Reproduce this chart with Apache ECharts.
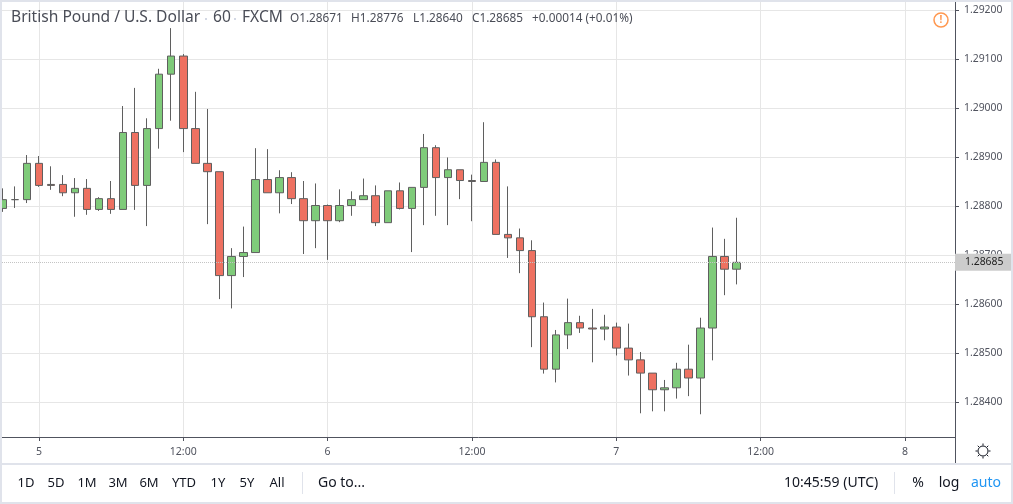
<!DOCTYPE html>
<html>
<head>
<meta charset="utf-8">
<style>html,body{margin:0;padding:0;background:#fff}#chart{width:1013px;height:504px}</style>
<script src="https://cdn.jsdelivr.net/npm/echarts@6/dist/echarts.min.js"></script>
</head>
<body>
<div id="chart"></div>
<script>
// GBP/USD hourly candles; hour 0 is midnight on the 5th.
const hours = [-3,-2,-1,0,1,2,3,4,5,6,7,8,9,10,11,12,13,14,15,16,17,18,19,20,21,22,23,24,25,26,27,28,29,30,31,32,33,34,35,36,37,38,39,40,41,42,43,44,45,46,47,48,49,50,51,52,53,54,55,56,57,58];
const opens = [1.28795,1.28813,1.28813,1.28887,1.28844,1.28844,1.28827,1.28836,1.28793,1.28815,1.28793,1.28950,1.28842,1.28958,1.29069,1.29106,1.28958,1.28887,1.28870,1.28658,1.28697,1.28705,1.28854,1.28827,1.28858,1.28815,1.28770,1.28801,1.28770,1.28801,1.28813,1.28821,1.28766,1.28831,1.28795,1.28838,1.28919,1.28858,1.28874,1.28852,1.28850,1.28889,1.28742,1.28735,1.28709,1.28574,1.28467,1.28537,1.28562,1.28551,1.28549,1.28553,1.28510,1.28486,1.28459,1.28425,1.28429,1.28467,1.28449,1.28551,1.28697,1.28671];
const closes = [1.28813,1.28813,1.28887,1.28842,1.28842,1.28827,1.28836,1.28793,1.28815,1.28793,1.28950,1.28842,1.28958,1.29069,1.29106,1.28958,1.28887,1.28870,1.28658,1.28697,1.28705,1.28854,1.28827,1.28858,1.28815,1.28770,1.28801,1.28770,1.28801,1.28813,1.28821,1.28766,1.28831,1.28795,1.28838,1.28919,1.28858,1.28874,1.28852,1.28850,1.28889,1.28742,1.28735,1.28709,1.28574,1.28467,1.28537,1.28562,1.28551,1.28549,1.28553,1.28510,1.28486,1.28459,1.28425,1.28429,1.28467,1.28449,1.28551,1.28697,1.28671,1.28685];
const lows = [1.28788,1.28796,1.28806,1.28839,1.28833,1.28820,1.28778,1.28782,1.28790,1.28784,1.28793,1.28792,1.28759,1.28917,1.28974,1.28910,1.28887,1.28763,1.28610,1.28591,1.28655,1.28705,1.28827,1.28785,1.28804,1.28702,1.28714,1.28690,1.28767,1.28780,1.28813,1.28759,1.28766,1.28793,1.28706,1.28761,1.28780,1.28761,1.28814,1.28769,1.28850,1.28742,1.28694,1.28663,1.28512,1.28458,1.28440,1.28508,1.28541,1.28481,1.28526,1.28495,1.28454,1.28377,1.28381,1.28381,1.28407,1.28412,1.28375,1.28485,1.28618,1.28640];
const highs = [1.28836,1.28840,1.28904,1.28902,1.28881,1.28863,1.28857,1.28855,1.28818,1.28851,1.29004,1.29041,1.28979,1.29080,1.29163,1.29110,1.29033,1.28998,1.28870,1.28714,1.28758,1.28918,1.28916,1.28873,1.28869,1.28851,1.28846,1.28803,1.28834,1.28830,1.28856,1.28842,1.28831,1.28848,1.28838,1.28947,1.28924,1.28899,1.28874,1.28864,1.28971,1.28895,1.28840,1.28754,1.28730,1.28603,1.28547,1.28611,1.28576,1.28590,1.28578,1.28562,1.28560,1.28502,1.28459,1.28445,1.28480,1.28517,1.28572,1.28756,1.28733,1.28776];
const priceTicks = [1.284,1.285,1.286,1.287,1.288,1.289,1.29,1.291,1.292];
const timeTicks = [0,12,24,36,48,60,72];
const timeLabels = ['5','12:00','6','12:00','7','12:00','8'];
const lastPrice = 1.28685;
const quoteParts = ['O1.28671','H1.28776','L1.28640','C1.28685','+0.00014 (+0.01%)'];
const quoteX = [290,351,413,472,532];
const rangeButtons = ['1D','5D','1M','3M','6M','YTD','1Y','5Y','All'];
const rangeButtonX = [26,56,87,118,149,184,218,247,277];

const FONT = '"Noto Sans", sans-serif';
const INK = '#131722', AXIS = '#50535e', GRID = '#e6e6e6', FRAME = '#e0e3eb';
const xMin = -3.067, xMax = 76.152;

const chart = echarts.init(document.getElementById('chart'), null, {renderer: 'canvas'});

const txt = (x, y, text, opt = {}) => ({
  type: 'text', x, y, z: 50,
  style: Object.assign({text, fill: INK, font: '14px ' + FONT, textAlign: 'left', textVerticalAlign: 'middle'}, opt)
});

const frame = [
  {type: 'rect', z: 40, shape: {x: 0, y: 0, width: 2, height: 504}, style: {fill: FRAME}},
  {type: 'rect', z: 40, shape: {x: 1011, y: 0, width: 2, height: 504}, style: {fill: FRAME}},
  {type: 'rect', z: 40, shape: {x: 0, y: 0, width: 1013, height: 2}, style: {fill: FRAME}},
  {type: 'rect', z: 40, shape: {x: 0, y: 502, width: 1013, height: 2}, style: {fill: FRAME}},
  {type: 'rect', z: 40, shape: {x: 0, y: 463, width: 1013, height: 2}, style: {fill: FRAME}},
  {type: 'rect', z: 40, shape: {x: 302, y: 472, width: 1, height: 22}, style: {fill: FRAME}},
  {type: 'rect', z: 40, shape: {x: 894, y: 472, width: 1, height: 22}, style: {fill: FRAME}},
  {type: 'rect', z: 40, shape: {x: 955, y: 437, width: 1, height: 26}, style: {fill: AXIS}}
];

const headColor = '#4a4d57';
const dot = (cx) => ({type: 'circle', z: 50, shape: {cx, cy: 19, r: 1}, style: {fill: '#c5cbdb'}});
const header = [
  txt(11, 18, 'British Pound / U.S. Dollar', {font: '15.6px ' + FONT, fill: headColor}),
  dot(206),
  txt(213, 18, '60', {font: '15.6px ' + FONT, fill: headColor}),
  dot(235),
  txt(242, 18, 'FXCM', {font: '15.6px ' + FONT, fill: headColor}),
  ...quoteParts.map((q, i) => txt(quoteX[i], 19, q, {font: '11.8px ' + FONT, fill: headColor})),
  {type: 'circle', z: 50, shape: {cx: 941, cy: 20, r: 7}, style: {fill: '#fff', stroke: '#ff9850', lineWidth: 1.5}},
  txt(941, 20, '!', {font: 'bold 10px ' + FONT, fill: '#ff9850', textAlign: 'center'})
];

const rays = [[0,-1],[0,1],[-1,0],[1,0],[-.7,-.7],[.7,-.7],[-.7,.7],[.7,.7]];
const toolbar = rangeButtons.map((b, i) => txt(rangeButtonX[i], 483, b, {textAlign: 'center', font: '13px ' + FONT})).concat([
  txt(318, 483, 'Go to...', {font: '14px ' + FONT}),
  txt(784, 483, '10:45:59 (UTC)', {font: '14px ' + FONT}),
  txt(918, 483, '%', {textAlign: 'center', font: '14px ' + FONT}),
  txt(949, 483, 'log', {textAlign: 'center', font: '14px ' + FONT}),
  txt(986, 483, 'auto', {textAlign: 'center', fill: '#2196f3', font: '14px ' + FONT}),
  {type: 'circle', z: 50, shape: {cx: 983, cy: 451, r: 5}, style: {fill: '#fff', stroke: '#131722', lineWidth: 1}},
  ...rays.map(r => ({
    type: 'line', z: 50,
    shape: {x1: 983 + r[0] * 5.5, y1: 451 + r[1] * 5.5, x2: 983 + r[0] * 7.5, y2: 451 + r[1] * 7.5},
    style: {stroke: '#131722', lineWidth: 1}
  }))
]);

chart.setOption({
  animation: false,
  backgroundColor: '#fff',
  grid: {left: 2, top: 2, width: 953, height: 435, containLabel: false},
  xAxis: {
    type: 'value',
    min: xMin,
    max: xMax,
    scale: true,
    axisLine: {onZero: false, lineStyle: {color: AXIS, width: 1}},
    axisTick: {customValues: timeTicks, length: 4, lineStyle: {color: AXIS}},
    axisLabel: {
      customValues: timeTicks, color: AXIS, fontFamily: FONT, fontSize: 10.5, margin: 10,
      formatter: v => timeLabels[timeTicks.indexOf(v)]
    },
    splitLine: {show: true, lineStyle: {color: GRID, width: 1}}
  },
  yAxis: {
    type: 'value',
    position: 'right',
    min: 1.283286,
    max: 1.292163,
    scale: true,
    axisLine: {show: true, onZero: false, lineStyle: {color: AXIS, width: 1}},
    axisTick: {show: true, customValues: priceTicks, length: 4, lineStyle: {color: AXIS}},
    axisLabel: {
      customValues: priceTicks, color: AXIS, fontFamily: FONT, fontSize: 10.4, margin: 9,
      padding: [3, 0, 0, 0],
      formatter: v => v.toFixed(5)
    },
    splitLine: {show: true, lineStyle: {color: GRID, width: 1}}
  },
  series: [{
    type: 'candlestick',
    barWidth: 8,
    encode: {x: 0, y: [1, 2, 3, 4]},
    data: hours.map((h, i) => [h, opens[i], closes[i], lows[i], highs[i]]),
    itemStyle: {color: '#7fcb7a', color0: '#ee7161', borderColor: '#5f5f5f', borderColor0: '#5f5f5f', borderWidth: 1}
  }, {
    // carries only the last-price guide and its tag on the price scale
    type: 'line',
    data: [],
    markLine: {
      silent: true,
      symbol: 'none',
      z: 30,
      precision: 5,
      lineStyle: {color: '#c4c4c4', type: 'dotted', width: 1},
      label: {
        position: 'end', distance: 0, formatter: () => lastPrice.toFixed(5), color: '#222',
        backgroundColor: '#cccccc', fontFamily: FONT, fontSize: 10.4,
        padding: [4, 9, 3, 10]
      },
      data: [{yAxis: lastPrice}]
    }
  }],
  graphic: {elements: [...frame, ...header, ...toolbar]}
});
</script>
</body>
</html>
